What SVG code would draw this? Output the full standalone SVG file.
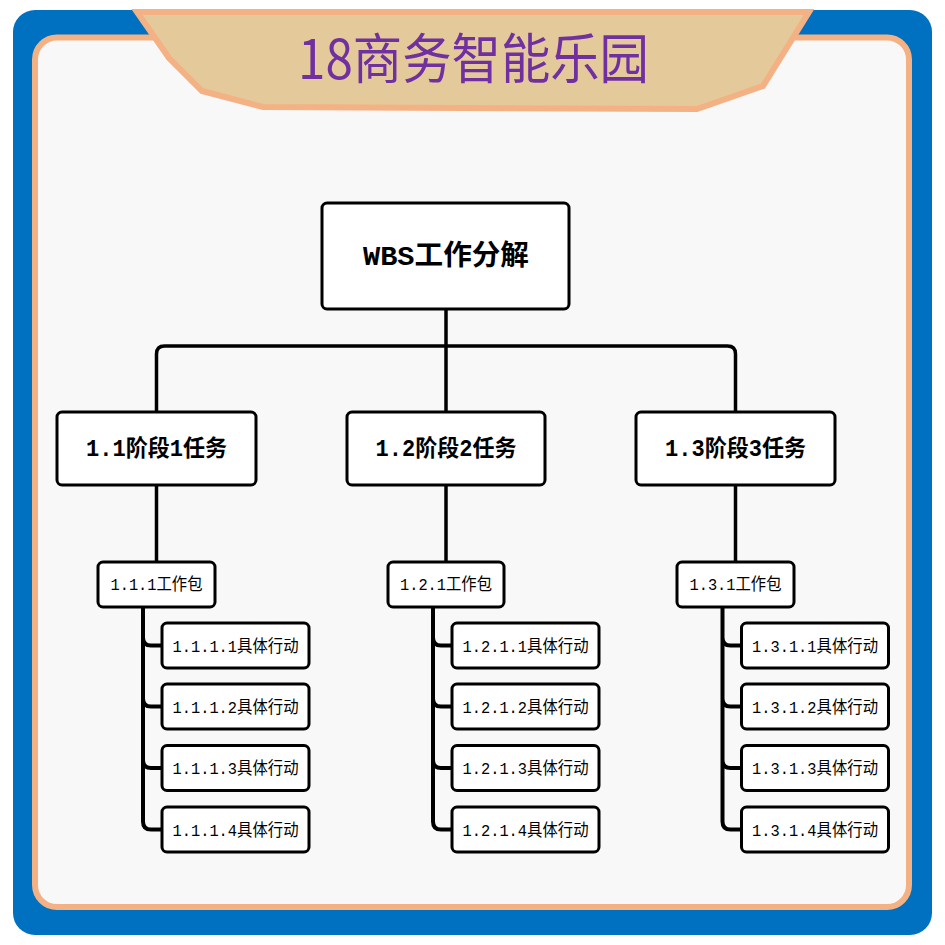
<svg xmlns="http://www.w3.org/2000/svg" width="945" height="945" viewBox="0 0 945 945">
<style>
.box{fill:#fff;stroke:#000;stroke-width:3}
.con{fill:none;stroke:#000;stroke-width:3.5;stroke-linejoin:round}
.br{fill:none;stroke:#000;stroke-width:4;stroke-linejoin:round}
.t{font-family:"Liberation Mono","Noto Sans CJK SC",monospace;fill:#000;text-anchor:middle}
.b{font-weight:bold}
</style>
<rect x="13" y="10" width="919" height="925" rx="22" fill="#0070C0"/>
<rect x="35" y="37.5" width="874" height="869.5" rx="22" fill="#F8F8F8" stroke="#F4B183" stroke-width="6"/>
<g id="banner">
<polygon points="137,12 809,12 763,86 697,109 263,107 202,91 169,58" fill="#E4C99A" stroke="#F4B183" stroke-width="6" stroke-linejoin="miter"/>
<text x="473.5" y="79" font-family="'Noto Sans CJK SC',sans-serif" font-size="54" fill="#7030A0" text-anchor="middle" textLength="351" lengthAdjust="spacingAndGlyphs">18商务智能乐园</text>
</g>
<g id="connectors">
<path class="con" d="M446,309 V412"/>
<path class="con" d="M156.5,412 V354 Q156.5,346 164.5,346 H727.5 Q735.5,346 735.5,354 V412"/>
<path class="con" d="M156.5,485 V562 M446,485 V562 M735.5,485 V562"/>
<g class="br">
<path d="M143,607 V821.5 Q143,829.5 151,829.5 H162 M143,637.5 Q143,645.5 151,645.5 H162 M143,698.5 Q143,706.5 151,706.5 H162 M143,760 Q143,768 151,768 H162"/>
<path d="M433,607 V821.5 Q433,829.5 441,829.5 H452 M433,637.5 Q433,645.5 441,645.5 H452 M433,698.5 Q433,706.5 441,706.5 H452 M433,760 Q433,768 441,768 H452"/>
<path d="M722.5,607 V821.5 Q722.5,829.5 730.5,829.5 H741.5 M722.5,637.5 Q722.5,645.5 730.5,645.5 H741.5 M722.5,698.5 Q722.5,706.5 730.5,706.5 H741.5 M722.5,760 Q722.5,768 730.5,768 H741.5"/>
</g>
</g>
<g id="root">
<rect class="box" x="322" y="203" width="247" height="106" rx="5" stroke-width="3.5"/>
<text class="t b" x="446" y="265" font-size="28" textLength="166" lengthAdjust="spacingAndGlyphs">WBS工作分解</text>
</g>
<g id="n1_1">
<rect class="box" x="57" y="412" width="199" height="73" rx="5"/>
<text class="t b" x="156.5" y="456" font-size="23" textLength="141" lengthAdjust="spacingAndGlyphs">1.1阶段1任务</text>
</g>
<g id="n1_2">
<rect class="box" x="347" y="412" width="198" height="73" rx="5"/>
<text class="t b" x="446" y="456" font-size="23" textLength="141" lengthAdjust="spacingAndGlyphs">1.2阶段2任务</text>
</g>
<g id="n1_3">
<rect class="box" x="636" y="412" width="199" height="73" rx="5"/>
<text class="t b" x="735.5" y="456" font-size="23" textLength="141" lengthAdjust="spacingAndGlyphs">1.3阶段3任务</text>
</g>
<g id="n1_1_1">
<rect class="box" x="98" y="562" width="117" height="45" rx="5"/>
<text class="t" x="156.5" y="590" font-size="17" textLength="92" lengthAdjust="spacingAndGlyphs">1.1.1工作包</text>
</g>
<g id="n1_2_1">
<rect class="box" x="388" y="562" width="116" height="45" rx="5"/>
<text class="t" x="446" y="590" font-size="17" textLength="92" lengthAdjust="spacingAndGlyphs">1.2.1工作包</text>
</g>
<g id="n1_3_1">
<rect class="box" x="677" y="562" width="117" height="45" rx="5"/>
<text class="t" x="735.5" y="590" font-size="17" textLength="92" lengthAdjust="spacingAndGlyphs">1.3.1工作包</text>
</g>
<g id="a1_1_1_1"><rect class="box" x="162" y="623" width="147" height="45" rx="5"/><text class="t" x="235.5" y="651.5" font-size="17" textLength="126" lengthAdjust="spacingAndGlyphs">1.1.1.1具体行动</text></g>
<g id="a1_1_1_2"><rect class="box" x="162" y="684" width="147" height="45" rx="5"/><text class="t" x="235.5" y="712.5" font-size="17" textLength="126" lengthAdjust="spacingAndGlyphs">1.1.1.2具体行动</text></g>
<g id="a1_1_1_3"><rect class="box" x="162" y="745.5" width="147" height="45" rx="5"/><text class="t" x="235.5" y="774" font-size="17" textLength="126" lengthAdjust="spacingAndGlyphs">1.1.1.3具体行动</text></g>
<g id="a1_1_1_4"><rect class="box" x="162" y="807" width="147" height="45" rx="5"/><text class="t" x="235.5" y="835.5" font-size="17" textLength="126" lengthAdjust="spacingAndGlyphs">1.1.1.4具体行动</text></g>
<g id="a1_2_1_1"><rect class="box" x="452" y="623" width="147" height="45" rx="5"/><text class="t" x="525.5" y="651.5" font-size="17" textLength="126" lengthAdjust="spacingAndGlyphs">1.2.1.1具体行动</text></g>
<g id="a1_2_1_2"><rect class="box" x="452" y="684" width="147" height="45" rx="5"/><text class="t" x="525.5" y="712.5" font-size="17" textLength="126" lengthAdjust="spacingAndGlyphs">1.2.1.2具体行动</text></g>
<g id="a1_2_1_3"><rect class="box" x="452" y="745.5" width="147" height="45" rx="5"/><text class="t" x="525.5" y="774" font-size="17" textLength="126" lengthAdjust="spacingAndGlyphs">1.2.1.3具体行动</text></g>
<g id="a1_2_1_4"><rect class="box" x="452" y="807" width="147" height="45" rx="5"/><text class="t" x="525.5" y="835.5" font-size="17" textLength="126" lengthAdjust="spacingAndGlyphs">1.2.1.4具体行动</text></g>
<g id="a1_3_1_1"><rect class="box" x="741.5" y="623" width="147" height="45" rx="5"/><text class="t" x="815" y="651.5" font-size="17" textLength="126" lengthAdjust="spacingAndGlyphs">1.3.1.1具体行动</text></g>
<g id="a1_3_1_2"><rect class="box" x="741.5" y="684" width="147" height="45" rx="5"/><text class="t" x="815" y="712.5" font-size="17" textLength="126" lengthAdjust="spacingAndGlyphs">1.3.1.2具体行动</text></g>
<g id="a1_3_1_3"><rect class="box" x="741.5" y="745.5" width="147" height="45" rx="5"/><text class="t" x="815" y="774" font-size="17" textLength="126" lengthAdjust="spacingAndGlyphs">1.3.1.3具体行动</text></g>
<g id="a1_3_1_4"><rect class="box" x="741.5" y="807" width="147" height="45" rx="5"/><text class="t" x="815" y="835.5" font-size="17" textLength="126" lengthAdjust="spacingAndGlyphs">1.3.1.4具体行动</text></g>
</svg>
